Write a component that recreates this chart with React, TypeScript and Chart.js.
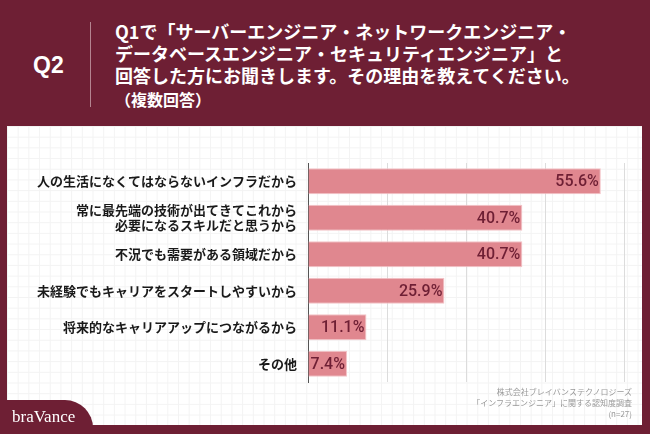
import React, { useEffect, useRef } from "react";
import { Chart, registerables } from "chart.js";

Chart.register(...registerables);

const categories: (string | string[])[] = [
  "人の生活になくてはならないインフラだから",
  ["常に最先端の技術が出てきてこれから", "必要になるスキルだと思うから"],
  "不況でも需要がある領域だから",
  "未経験でもキャリアをスタートしやすいから",
  "将来的なキャリアアップにつながるから",
  "その他",
];
const values = [55.6, 40.7, 40.7, 25.9, 11.1, 7.4];
const axisMax = 60;
const axisStep = 15;

const titleLines = [
  "Q1で「サーバーエンジニア・ネットワークエンジニア・",
  "データベースエンジニア・セキュリティエンジニア」と",
  "回答した方にお聞きします。その理由を教えてください。",
];
const subTitle = "（複数回答）";
const sourceLines = [
  "株式会社ブレイバンステクノロジーズ",
  "「インフラエンジニア」に関する認知度調査",
  "(n=27)",
];

const MAROON = "#6e1f34";
const JP = "'Noto Sans CJK JP', 'Noto Sans', sans-serif";

const valueLabels = {
  id: "valueLabels",
  afterDatasetsDraw(chart: any) {
    const ctx = chart.ctx;
    const meta = chart.getDatasetMeta(0);
    ctx.save();
    ctx.font = "500 16px Roboto, 'Liberation Sans', sans-serif";
    ctx.fillStyle = MAROON;
    ctx.textAlign = "right";
    ctx.textBaseline = "middle";
    meta.data.forEach((bar: any, i: number) => {
      ctx.fillText(values[i].toFixed(1) + "%", bar.x - 2, bar.y + 1);
    });
    ctx.restore();
  },
};

export default function App() {
  const ref = useRef<HTMLCanvasElement | null>(null);
  useEffect(() => {
    if (!ref.current) return;
    const chart = new Chart(ref.current, {
      type: "bar",
      data: {
        labels: categories as any,
        datasets: [
          {
            data: values,
            backgroundColor: "#e0878f",
            borderColor: "#f3c3c7",
            borderWidth: 1,
            barPercentage: 0.71,
            categoryPercentage: 1,
          },
        ],
      },
      options: {
        indexAxis: "y",
        animation: false,
        responsive: false,
        layout: { padding: { top: 37, bottom: 43, right: 19, left: 0 } },
        plugins: { legend: { display: false }, tooltip: { enabled: false } },
        scales: {
          x: {
            min: 0,
            max: axisMax,
            ticks: { display: false, stepSize: axisStep },
            grid: { color: "#dcdcdc", lineWidth: 1, drawTicks: false },
            border: { display: false },
          },
          y: {
            afterFit(scale: any) {
              scale.width = 301;
            },
            ticks: {
              color: "#1a1a1a",
              padding: 11,
              font: { family: JP, size: 13, weight: "bold", lineHeight: 1.2 },
            },
            grid: { display: false, drawTicks: false },
            border: { display: true, color: "#555555", width: 1 },
          },
        },
      },
      plugins: [valueLabels],
    });
    return () => chart.destroy();
  }, []);

  return (
    <div
      style={{
        position: "absolute",
        left: 0,
        top: 0,
        width: 650,
        height: 434,
        background: MAROON,
        overflow: "hidden",
        fontFamily: JP,
      }}
    >
      <div
        style={{
          position: "absolute",
          left: 33,
          top: 50,
          color: "#fff",
          fontSize: 23,
          fontWeight: 700,
          fontFamily: "'Liberation Sans', Arial, sans-serif",
          lineHeight: "30px",
        }}
      >
        Q2
      </div>
      <div
        style={{
          position: "absolute",
          left: 90,
          top: 22,
          width: 1,
          height: 85,
          background: "#b48490",
        }}
      />
      <div
        style={{
          position: "absolute",
          left: 115,
          top: 20,
          color: "#fff",
          fontSize: 18,
          fontWeight: 700,
          lineHeight: "22px",
          whiteSpace: "nowrap",
        }}
      >
        {titleLines.map((t, i) => (
          <div key={i}>{t}</div>
        ))}
        <div style={{ fontSize: 16, lineHeight: "24px", marginTop: 1 }}>{subTitle}</div>
      </div>
      <div
        style={{
          position: "absolute",
          left: 7,
          top: 126,
          width: 635,
          height: 299,
          backgroundColor: "#ffffff",
          backgroundImage:
            "linear-gradient(#f3f3f3 1px, transparent 1px), linear-gradient(90deg, #f3f3f3 1px, transparent 1px)",
          backgroundSize: "10.7px 10.7px",
        }}
      />
      <canvas
        ref={ref}
        width={636}
        height={299}
        style={{ position: "absolute", left: 7, top: 126, width: 636, height: 299 }}
      />
      <div
        style={{
          position: "absolute",
          right: 18,
          top: 386,
          color: "#999",
          fontSize: 8,
          lineHeight: "11px",
          textAlign: "right",
          whiteSpace: "nowrap",
        }}
      >
        {sourceLines.map((t, i) => (
          <div key={i}>{t}</div>
        ))}
      </div>
      <div
        style={{
          position: "absolute",
          left: 0,
          top: 400,
          width: 93,
          height: 40,
          background: MAROON,
          borderTopRightRadius: 28,
        }}
      />
      <div
        style={{
          position: "absolute",
          left: 12,
          top: 406,
          color: "#fff",
          fontSize: 17,
          fontFamily: "'Liberation Serif', 'DejaVu Serif', serif",
          lineHeight: "22px",
        }}
      >
        braVance
      </div>
    </div>
  );
}
